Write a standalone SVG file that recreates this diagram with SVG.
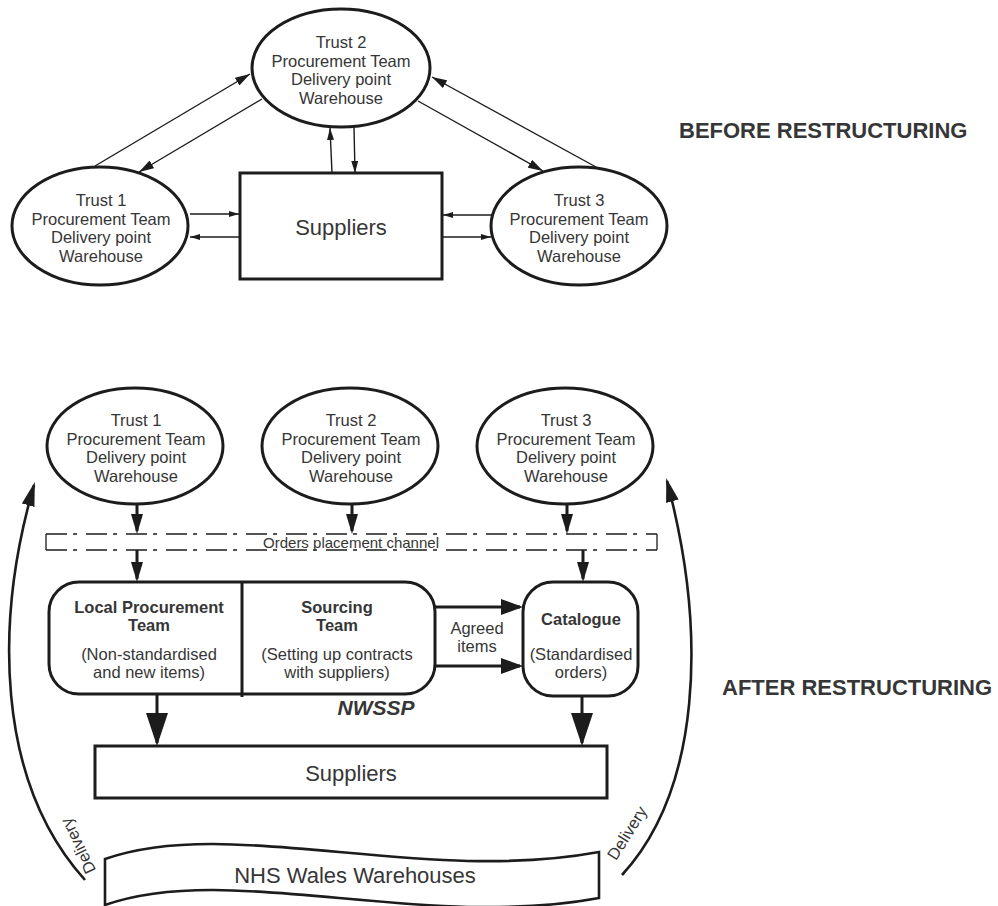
<svg xmlns="http://www.w3.org/2000/svg" width="998" height="906" viewBox="0 0 998 906">
<style>
  .bg{fill:#ffffff}
  .node{fill:#ffffff;stroke:#1c1c1c;stroke-width:3}
  .t{font-family:"Liberation Sans",Arial,sans-serif;font-size:16.5px;fill:#363636;text-anchor:middle}
  .b{font-weight:bold}
  .big{font-size:22px}
  .head{font-family:"Liberation Sans",Arial,sans-serif;font-size:22px;font-weight:bold;fill:#363636}
  .thin{fill:none;stroke:#1c1c1c;stroke-width:1.4}
  .thick{fill:none;stroke:#1c1c1c;stroke-width:3}
  .arc{fill:none;stroke:#1c1c1c;stroke-width:2.6}
  .chan{fill:none;stroke:#1c1c1c;stroke-width:1.3}
  .ah{fill:#1c1c1c;stroke:none}
</style>
<defs>
  <marker id="mThinL" markerUnits="userSpaceOnUse" markerWidth="15" markerHeight="9" refX="15" refY="4.5" orient="auto"><path class="ah" d="M0,0 L15,4.5 L0,9 Z"/></marker>
  <marker id="mThinS" markerUnits="userSpaceOnUse" markerWidth="10" markerHeight="6" refX="10" refY="3" orient="auto"><path class="ah" d="M0,0 L10,3 L0,6 Z"/></marker>
  <marker id="mThinV" markerUnits="userSpaceOnUse" markerWidth="12" markerHeight="7" refX="12" refY="3.5" orient="auto"><path class="ah" d="M0,0 L12,3.5 L0,7 Z"/></marker>
  <marker id="mMed" markerUnits="userSpaceOnUse" markerWidth="20" markerHeight="12" refX="17" refY="6" orient="auto"><path class="ah" d="M0,0 L20,6 L0,12 Z"/></marker>
  <marker id="mSide" markerUnits="userSpaceOnUse" markerWidth="22" markerHeight="16" refX="19" refY="8" orient="auto"><path class="ah" d="M0,0 L22,8 L0,16 Z"/></marker>
  <marker id="mBig" markerUnits="userSpaceOnUse" markerWidth="33" markerHeight="22" refX="30" refY="11" orient="auto"><path class="ah" d="M0,0 L33,11 L0,22 Z"/></marker>
  <marker id="mArc" markerUnits="userSpaceOnUse" markerWidth="24" markerHeight="13" refX="21" refY="6.5" orient="auto"><path class="ah" d="M0,0 L24,6.5 L0,13 Z"/></marker>
</defs>
<rect class="bg" x="0" y="0" width="998" height="906"/>

<!-- BEFORE RESTRUCTURING -->
<g id="connectors-before">
  <line class="thin" x1="95" y1="166" x2="250" y2="74" marker-end="url(#mThinL)"/>
  <line class="thin" x1="262" y1="99" x2="139" y2="172" marker-end="url(#mThinL)"/>
  <line class="thin" x1="332" y1="173" x2="330" y2="128" marker-end="url(#mThinV)"/>
  <line class="thin" x1="354" y1="127" x2="355" y2="173" marker-end="url(#mThinV)"/>
  <line class="thin" x1="418" y1="101" x2="543" y2="171" marker-end="url(#mThinL)"/>
  <line class="thin" x1="596" y1="167" x2="432" y2="77" marker-end="url(#mThinL)"/>
  <line class="thin" x1="190" y1="214" x2="239" y2="214" marker-end="url(#mThinS)"/>
  <line class="thin" x1="239" y1="237" x2="190" y2="237" marker-end="url(#mThinS)"/>
  <line class="thin" x1="492" y1="215" x2="443" y2="215" marker-end="url(#mThinS)"/>
  <line class="thin" x1="442" y1="237" x2="491" y2="237" marker-end="url(#mThinS)"/>
</g>
<g id="before-trust1">
  <ellipse class="node" cx="100" cy="226" rx="88" ry="59"/>
  <text class="t" x="101" y="206">Trust 1</text>
  <text class="t" x="101" y="224.5">Procurement Team</text>
  <text class="t" x="101" y="243">Delivery point</text>
  <text class="t" x="101" y="261.5">Warehouse</text>
</g>
<g id="before-trust2">
  <ellipse class="node" cx="341" cy="68" rx="89" ry="59"/>
  <text class="t" x="341" y="48">Trust 2</text>
  <text class="t" x="341" y="66.5">Procurement Team</text>
  <text class="t" x="341" y="85">Delivery point</text>
  <text class="t" x="341" y="103.5">Warehouse</text>
</g>
<g id="before-trust3">
  <ellipse class="node" cx="579" cy="226" rx="88" ry="59"/>
  <text class="t" x="579" y="206">Trust 3</text>
  <text class="t" x="579" y="224.5">Procurement Team</text>
  <text class="t" x="579" y="243">Delivery point</text>
  <text class="t" x="579" y="261.5">Warehouse</text>
</g>
<g id="before-suppliers">
  <rect class="node" x="240" y="173" width="202" height="106"/>
  <text class="t big" x="341" y="235">Suppliers</text>
</g>
<text class="head" x="679" y="138">BEFORE RESTRUCTURING</text>

<!-- AFTER RESTRUCTURING -->
<g id="connectors-after">
  <line class="thick" x1="137" y1="504" x2="137" y2="531" marker-end="url(#mMed)"/>
  <line class="thick" x1="352" y1="504" x2="352" y2="531" marker-end="url(#mMed)"/>
  <line class="thick" x1="567" y1="504" x2="567" y2="531" marker-end="url(#mMed)"/>
  <line class="thick" x1="137" y1="550" x2="137" y2="579" marker-end="url(#mMed)"/>
  <line class="thick" x1="583" y1="550" x2="583" y2="579" marker-end="url(#mMed)"/>
  <line class="thick" x1="435" y1="607" x2="520" y2="607" marker-end="url(#mSide)"/>
  <line class="thick" x1="435" y1="666" x2="520" y2="666" marker-end="url(#mSide)"/>
  <line class="thick" x1="157" y1="694" x2="157" y2="743" marker-end="url(#mBig)"/>
  <line class="thick" x1="582" y1="697" x2="582" y2="743" marker-end="url(#mBig)"/>
  <path class="arc" d="M85,880 C-5,780 -5,620 34,485" marker-end="url(#mArc)"/>
  <path class="arc" d="M622,875 C700,790 708,635 667,481" marker-end="url(#mArc)"/>
  <text class="t" transform="translate(78,846) rotate(-116)" x="0" y="0" dy="0.35em">Delivery</text>
  <text class="t" transform="translate(627,833) rotate(-58)" x="0" y="0" dy="0.35em">Delivery</text>
  <text class="t" x="477" y="634">Agreed</text>
  <text class="t" x="477" y="652">items</text>
</g>
<g id="after-trust1">
  <ellipse class="node" cx="135" cy="446" rx="88" ry="58"/>
  <text class="t" x="136" y="426">Trust 1</text>
  <text class="t" x="136" y="444.5">Procurement Team</text>
  <text class="t" x="136" y="463">Delivery point</text>
  <text class="t" x="136" y="481.5">Warehouse</text>
</g>
<g id="after-trust2">
  <ellipse class="node" cx="350" cy="446" rx="88" ry="58"/>
  <text class="t" x="351" y="426">Trust 2</text>
  <text class="t" x="351" y="444.5">Procurement Team</text>
  <text class="t" x="351" y="463">Delivery point</text>
  <text class="t" x="351" y="481.5">Warehouse</text>
</g>
<g id="after-trust3">
  <ellipse class="node" cx="565" cy="446" rx="88" ry="58"/>
  <text class="t" x="566" y="426">Trust 3</text>
  <text class="t" x="566" y="444.5">Procurement Team</text>
  <text class="t" x="566" y="463">Delivery point</text>
  <text class="t" x="566" y="481.5">Warehouse</text>
</g>
<g id="orders-channel">
  <line class="chan" x1="46" y1="534" x2="657" y2="534" stroke-dasharray="21 6 4 9"/>
  <line class="chan" x1="46" y1="550" x2="657" y2="550" stroke-dasharray="21 6 4 9"/>
  <line class="chan" x1="46" y1="534" x2="46" y2="550"/>
  <line class="chan" x1="657" y1="534" x2="657" y2="550"/>
  <text class="t" style="font-size:15px" x="351" y="548">Orders placement channel</text>
</g>
<g id="nwssp">
  <rect class="node" x="49" y="582" width="386" height="112" rx="30" ry="30"/>
  <line class="thick" x1="242" y1="582" x2="242" y2="697"/>
  <text class="t b" x="149" y="613">Local Procurement</text>
  <text class="t b" x="149" y="631">Team</text>
  <text class="t" x="149" y="660">(Non-standardised</text>
  <text class="t" x="149" y="678">and new items)</text>
  <text class="t b" x="337" y="613">Sourcing</text>
  <text class="t b" x="337" y="631">Team</text>
  <text class="t" x="337" y="660">(Setting up contracts</text>
  <text class="t" x="337" y="678">with suppliers)</text>
  <text class="t b" style="font-size:21px;font-style:italic" x="376" y="715">NWSSP</text>
</g>
<g id="catalogue">
  <rect class="node" x="523" y="582" width="115" height="114" rx="30" ry="30"/>
  <text class="t b" x="581" y="625">Catalogue</text>
  <text class="t" x="581" y="660">(Standardised</text>
  <text class="t" x="581" y="678">orders)</text>
</g>
<g id="after-suppliers">
  <rect class="node" x="95" y="746" width="512" height="52"/>
  <text class="t big" x="351" y="781">Suppliers</text>
</g>
<g id="nhs-warehouses">
  <path class="node" style="stroke-width:2.6" d="M105,859 C230,815 420,885 599,852 L599,898 C420,931 230,861 105,905 Z"/>
  <text class="t big" x="355" y="883">NHS Wales Warehouses</text>
</g>
<text class="head" x="722" y="695">AFTER RESTRUCTURING</text>
</svg>
